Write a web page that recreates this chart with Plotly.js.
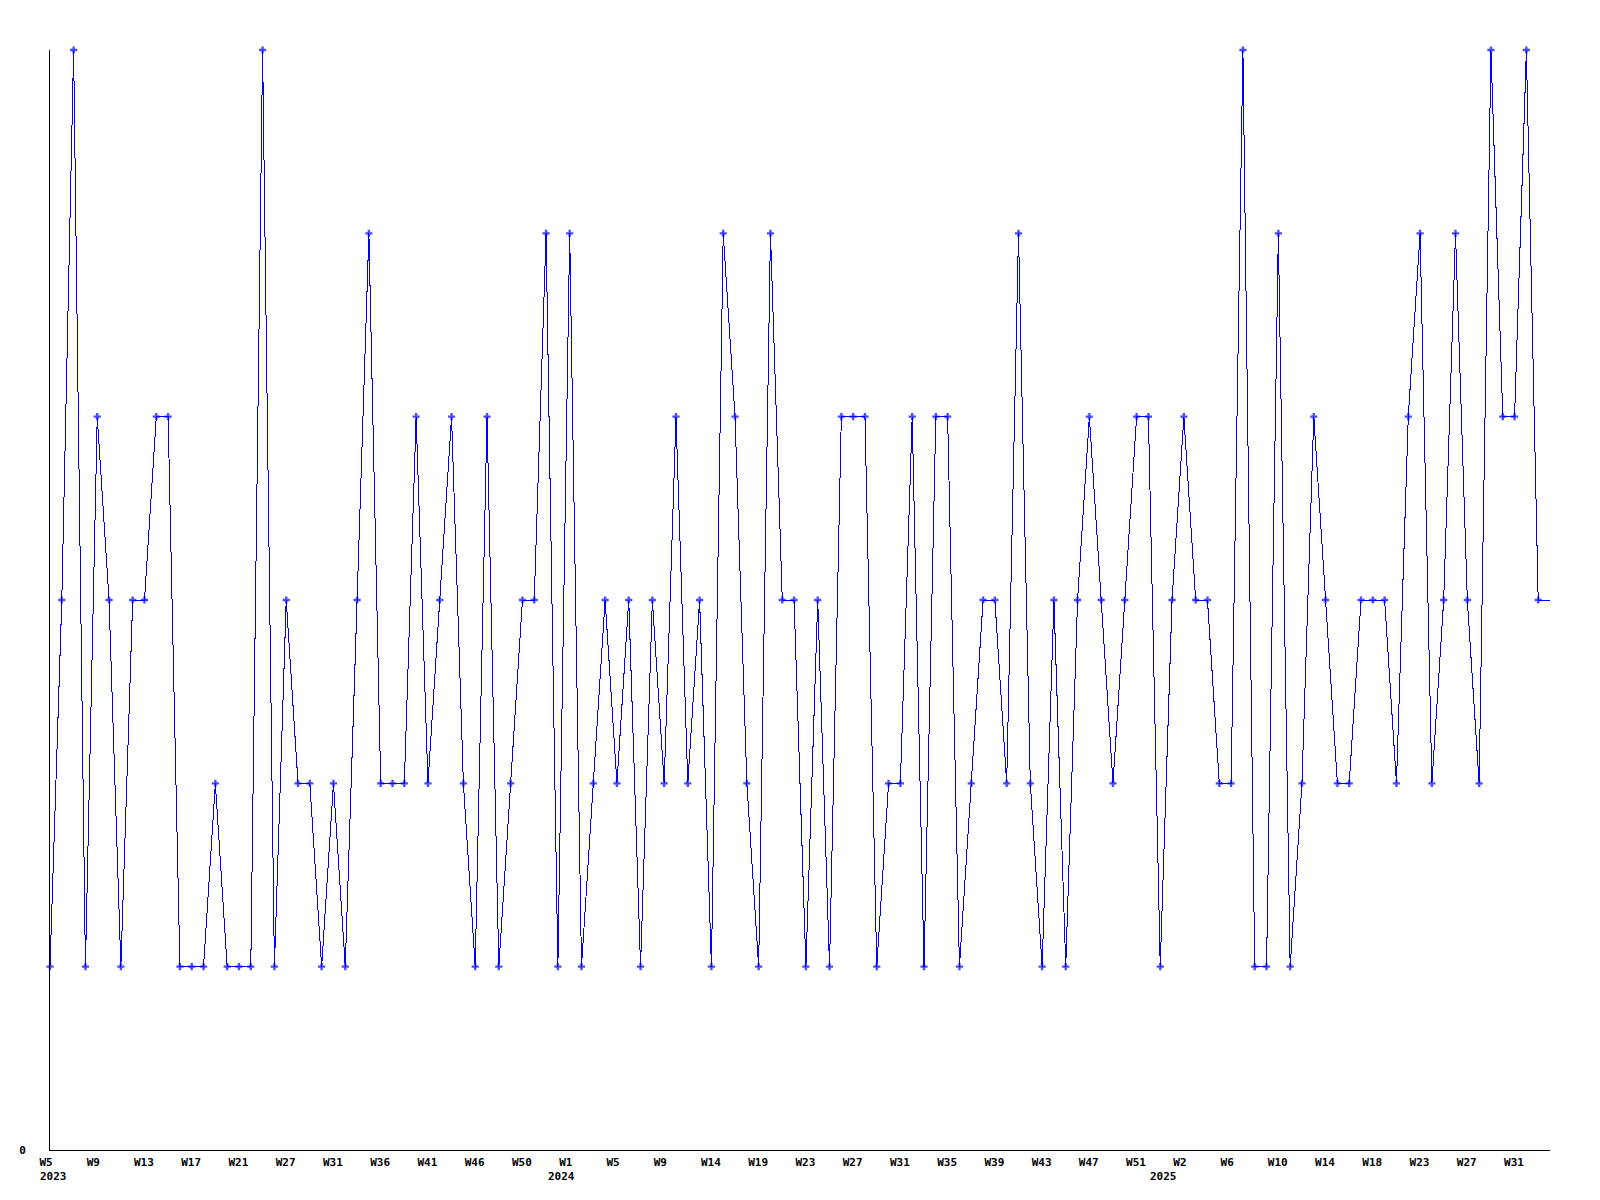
<!DOCTYPE html>
<html>
<head>
<meta charset="utf-8">
<script src="https://cdn.plot.ly/plotly-3.0.1.min.js"></script>
<style>
  html, body { margin: 0; padding: 0; background: #ffffff; }
  #chart { width: 1600px; height: 1200px; }
  .scatterlayer .js-line { shape-rendering: crispEdges; }
</style>
</head>
<body>
<div id="chart"></div>
<script>
// Weekly values, in plotting order (last value continues the line to the plot edge)
const values = [
  1,3,6,1,4,3,1,3,3,4,
  4,1,1,1,2,1,1,1,6,1,
  3,2,2,1,2,1,3,5,2,2,
  2,4,2,3,4,2,1,4,1,2,
  3,3,5,1,5,1,2,3,2,3,
  1,3,2,4,2,3,1,5,4,2,
  1,5,3,3,1,3,1,4,4,4,
  1,2,2,4,1,4,4,1,2,3,
  3,2,5,2,1,3,1,3,4,3,
  2,3,4,4,1,3,4,3,3,2,
  2,6,1,1,5,1,2,4,3,2,
  2,3,3,3,2,4,5,2,3,5,
  3,2,6,4,4,6,3,
  3
];

// Week tick labels (every 4th point)
const weekLabels = [
  "W5","W9","W13","W17","W21","W27","W31","W36","W41","W46","W50",
  "W1","W5","W9","W14","W19","W23","W27","W31","W35","W39","W43","W47","W51",
  "W2","W6","W10","W14","W18","W23","W27","W31"
];

// Year labels and the point where each year starts
const yearLabels = ["2023", "2024", "2025"];
const yearStartIndex = [0, 43, 94];

const yTickLabels = ["0"];
const yTickValues = [0];

const idx = values.map((_, i) => i);
const tickStep = 4;
const tickvals = weekLabels.map((_, k) => k * tickStep);
const markerSizes = values.map((_, i) => (i === values.length - 1 ? 0 : 6));

const fontFamily = '"DejaVu Sans Mono", "Liberation Mono", monospace';
const tickFont = { family: fontFamily, size: 11, color: '#000000', weight: 'bold' };

const trace = {
  type: 'scatter',
  mode: 'lines+markers',
  x: idx,
  y: values,
  line: { color: '#0000ff', width: 1 },
  marker: { symbol: 'cross', size: markerSizes, color: '#0000ff', line: { width: 0 } },
  hoverinfo: 'y',
  cliponaxis: false
};

const annotations = yearLabels.map((t, k) => ({
  x: yearStartIndex[k],
  xref: 'x',
  y: 0,
  yref: 'paper',
  text: t,
  showarrow: false,
  xanchor: 'left',
  yanchor: 'top',
  xshift: -12,
  yshift: -18,
  font: tickFont
}));

const layout = {
  width: 1600,
  height: 1200,
  margin: { l: 50, r: 50, t: 50, b: 50 },
  paper_bgcolor: '#ffffff',
  plot_bgcolor: '#ffffff',
  showlegend: false,
  xaxis: {
    range: [0, values.length - 1],
    showgrid: false,
    zeroline: false,
    showline: true,
    linecolor: '#000000',
    linewidth: 1,
    ticks: '',
    tickmode: 'array',
    tickvals: tickvals,
    ticktext: weekLabels,
    tickfont: tickFont,
    ticklabelposition: 'outside right',
    ticklabelshift: -11,
    ticklabelstandoff: 2
  },
  yaxis: {
    range: [0, 6],
    showgrid: false,
    zeroline: false,
    showline: true,
    linecolor: '#000000',
    linewidth: 1,
    ticks: '',
    tickmode: 'array',
    tickvals: yTickValues,
    ticktext: yTickLabels,
    tickfont: tickFont,
    ticklabelstandoff: 21
  },
  annotations: annotations
};

Plotly.newPlot('chart', [trace], layout, { staticPlot: true, displayModeBar: false });
</script>
</body>
</html>
